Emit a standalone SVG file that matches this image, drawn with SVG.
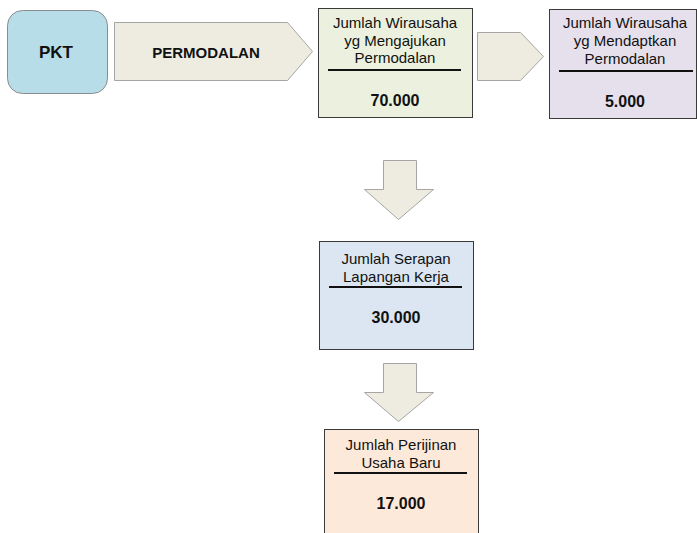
<svg xmlns="http://www.w3.org/2000/svg" width="697" height="533" viewBox="0 0 697 533">
<style>
.t{font-family:"Liberation Sans",Arial,sans-serif;font-size:15px;fill:#111;text-anchor:middle}
.b{font-family:"Liberation Sans",Arial,sans-serif;font-weight:bold;fill:#111;text-anchor:middle}
.box{stroke:#3a3a3a;stroke-width:1}
.arr{fill:#eeece1;stroke:#a5a5a5;stroke-width:1}
.ul{stroke:#111;stroke-width:2}
</style>
<rect width="697" height="533" fill="#ffffff"/>
<g id="connectors">
<path class="arr" d="M114.5,22.5 H287.5 L312.5,51.5 L287.5,80.5 H114.5 Z"/>
<path class="arr" d="M477.5,32.5 H520.5 L543.5,56.5 L520.5,80.5 H477.5 Z"/>
<path class="arr" d="M383.5,160.5 H416.5 V189.5 H433.5 L398.5,219.5 L364.5,189.5 H383.5 Z"/>
<path class="arr" d="M383.5,363.5 H416.5 V392.5 H433.5 L398.5,421.5 L364.5,392.5 H383.5 Z"/>
</g>
<g id="pkt">
<rect x="7.5" y="10.5" width="100" height="83" rx="15" fill="#b7dde8" stroke="#8c8c8c"/>
<text class="b" x="56" y="58" font-size="17">PKT</text>
</g>
<g id="permodalan-label">
<text class="b" x="206" y="58" font-size="15">PERMODALAN</text>
</g>
<g id="mengajukan">
<rect class="box" x="318.5" y="8.5" width="154" height="109" fill="#ebf1de"/>
<text class="t" x="395" y="28">Jumlah Wirausaha</text>
<text class="t" x="395" y="46">yg Mengajukan</text>
<text class="t" x="395" y="63">Permodalan</text>
<line class="ul" x1="328" y1="70" x2="461" y2="70"/>
<text class="b" x="395" y="106" font-size="16">70.000</text>
</g>
<g id="mendapatkan">
<rect class="box" x="549.5" y="9.5" width="147" height="109" fill="#e5e0ec"/>
<text class="t" x="625" y="28">Jumlah Wirausaha</text>
<text class="t" x="625" y="46">yg Mendaptkan</text>
<text class="t" x="625" y="64">Permodalan</text>
<line class="ul" x1="559" y1="71" x2="693" y2="71"/>
<text class="b" x="625" y="107" font-size="16">5.000</text>
</g>
<g id="serapan">
<rect class="box" x="319.5" y="241.5" width="154" height="108" fill="#dce6f2"/>
<text class="t" x="396" y="264">Jumlah Serapan</text>
<text class="t" x="396" y="282">Lapangan Kerja</text>
<line class="ul" x1="329" y1="287" x2="462" y2="287"/>
<text class="b" x="396" y="323" font-size="16">30.000</text>
</g>
<g id="perijinan">
<rect class="box" x="324.5" y="429.5" width="154" height="120" fill="#fde9d9"/>
<text class="t" x="401" y="450">Jumlah Perijinan</text>
<text class="t" x="401" y="468">Usaha Baru</text>
<line class="ul" x1="334" y1="473" x2="467" y2="473"/>
<text class="b" x="401" y="509" font-size="16">17.000</text>
</g>
</svg>
